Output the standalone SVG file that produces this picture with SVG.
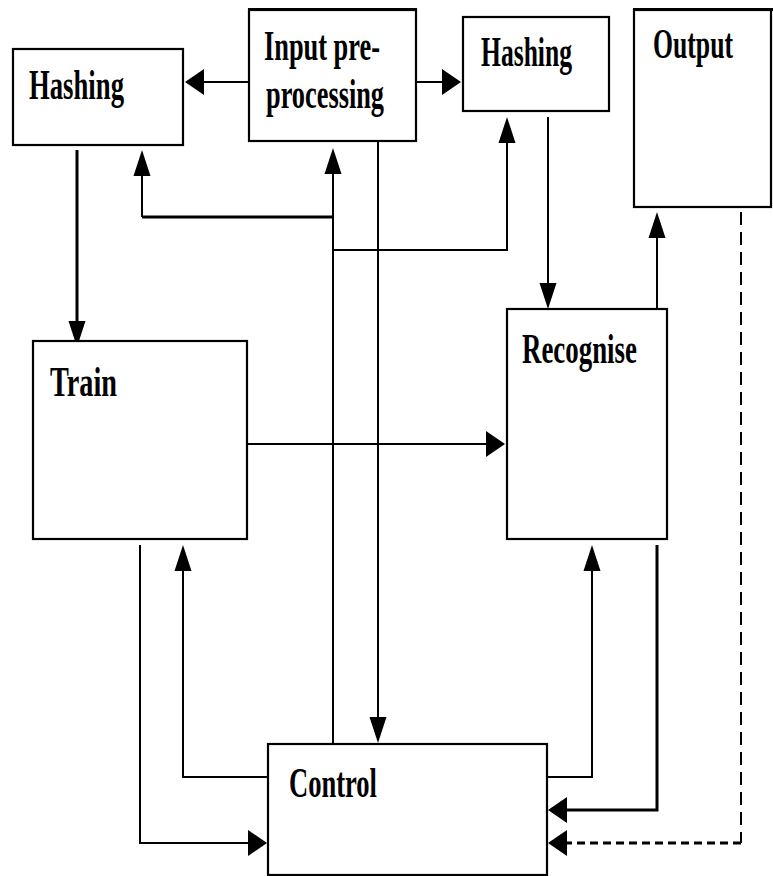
<svg xmlns="http://www.w3.org/2000/svg" xmlns:xlink="http://www.w3.org/1999/xlink" width="773" height="876" viewBox="0 0 773 876">
<style>
  .box { fill: #ffffff; stroke: #000000; stroke-width: 2.2; }
  .lbl { font-family: "Liberation Serif", "Times New Roman", serif; font-weight: bold; font-size: 28px; fill: #000000; }
  .ln { fill: none; stroke: #000000; stroke-width: 2; }
  .thk { fill: none; stroke: #000000; stroke-width: 3; }
  .dv { fill: none; stroke: #000000; stroke-width: 2; stroke-dasharray: 13 7; }
  .dh { fill: none; stroke: #000000; stroke-width: 3; stroke-dasharray: 8 5; }
  .ah { fill: #000000; }
</style>
<defs>
  <polygon id="au" class="ah" points="0,0 8.5,26 -8.5,26"/>
  <polygon id="ad" class="ah" points="0,0 8.5,-26 -8.5,-26"/>
  <polygon id="al" class="ah" points="0,0 19,-13 19,13"/>
  <polygon id="ar" class="ah" points="0,0 -19,-13 -19,13"/>
</defs>
<rect width="773" height="876" fill="#ffffff"/>

<g id="connectors">
  <!-- Input -> Hashing (left) -->
  <line class="ln" x1="248" y1="82" x2="200" y2="82"/>
  <use xlink:href="#al" x="185" y="82"/>
  <!-- Input -> Hashing (right) -->
  <line class="ln" x1="417" y1="82" x2="444" y2="82"/>
  <use xlink:href="#ar" x="461" y="82"/>
  <!-- Hashing (left) -> Train -->
  <line class="thk" x1="77" y1="150" x2="77" y2="322"/>
  <use xlink:href="#ad" x="77" y="347"/>
  <!-- Control -> Hashing (left) feedback -->
  <path class="thk" d="M333,217 H142"/>
  <path class="ln" d="M142,217 V175"/>
  <use xlink:href="#au" x="142" y="150"/>
  <!-- Control -> Input -->
  <line class="ln" x1="333" y1="173" x2="333" y2="744"/>
  <use xlink:href="#au" x="333" y="148"/>
  <!-- Control -> Hashing (right) -->
  <path class="ln" d="M333,250 H507 V142"/>
  <use xlink:href="#au" x="507" y="117"/>
  <!-- Input -> Control -->
  <line class="ln" x1="378" y1="142" x2="378" y2="718"/>
  <use xlink:href="#ad" x="378" y="743"/>
  <!-- Hashing (right) -> Recognise -->
  <line class="ln" x1="548" y1="117" x2="548" y2="284"/>
  <use xlink:href="#ad" x="548" y="309"/>
  <!-- Recognise -> Output -->
  <line class="ln" x1="657" y1="309" x2="657" y2="237"/>
  <use xlink:href="#au" x="657" y="212"/>
  <!-- Train -> Recognise -->
  <line class="ln" x1="247" y1="444" x2="487" y2="444"/>
  <use xlink:href="#ar" x="505" y="444"/>
  <!-- Train -> Control -->
  <path class="ln" d="M140,545 V843 H250"/>
  <use xlink:href="#ar" x="267" y="843"/>
  <!-- Control -> Train -->
  <path class="ln" d="M268,777 H183 V570"/>
  <use xlink:href="#au" x="183" y="545"/>
  <!-- Control -> Recognise -->
  <path class="ln" d="M547,777 H592 V570"/>
  <use xlink:href="#au" x="592" y="545"/>
  <!-- Recognise -> Control -->
  <path class="thk" d="M657,545 V810 H566"/>
  <use xlink:href="#al" x="548" y="810"/>
  <!-- Output -> Control (dashed) -->
  <path class="dv" d="M741,212 V843"/>
  <path class="dh" d="M741,843 H566"/>
  <use xlink:href="#al" x="548" y="843"/>
</g>

<g id="hashing-left">
  <rect class="box" x="13" y="49" width="170" height="96"/>
  <text class="lbl" transform="translate(29,99) scale(1,1.5)" textLength="95" lengthAdjust="spacingAndGlyphs">Hashing</text>
</g>

<g id="input-preprocessing">
  <rect class="box" x="249" y="10" width="167" height="131"/>
  <line x1="248" y1="9.5" x2="417" y2="9.5" stroke="#000" stroke-width="3"/>
  <text class="lbl" transform="translate(264,60) scale(1,1.5)" textLength="116" lengthAdjust="spacingAndGlyphs">Input pre-</text>
  <text class="lbl" transform="translate(266,108) scale(1,1.5)" textLength="118" lengthAdjust="spacingAndGlyphs">processing</text>
</g>

<g id="hashing-right">
  <rect class="box" x="463" y="17" width="146" height="94"/>
  <text class="lbl" transform="translate(481,66) scale(1,1.5)" textLength="91" lengthAdjust="spacingAndGlyphs">Hashing</text>
</g>

<g id="output">
  <rect class="box" x="634" y="10" width="137" height="197"/>
  <line x1="633" y1="9.5" x2="773" y2="9.5" stroke="#000" stroke-width="3"/>
  <text class="lbl" transform="translate(653,58) scale(1,1.5)" textLength="80" lengthAdjust="spacingAndGlyphs">Output</text>
</g>

<g id="train">
  <rect class="box" x="33" y="341" width="214" height="198"/>
  <text class="lbl" transform="translate(50,396) scale(1,1.5)" textLength="67" lengthAdjust="spacingAndGlyphs">Train</text>
</g>

<g id="recognise">
  <rect class="box" x="507" y="309" width="160" height="230"/>
  <text class="lbl" transform="translate(522,363) scale(1,1.5)" textLength="115" lengthAdjust="spacingAndGlyphs">Recognise</text>
</g>

<g id="control">
  <rect class="box" x="268" y="744" width="279" height="131"/>
  <text class="lbl" transform="translate(289,797) scale(1,1.5)" textLength="88" lengthAdjust="spacingAndGlyphs">Control</text>
</g>
</svg>
